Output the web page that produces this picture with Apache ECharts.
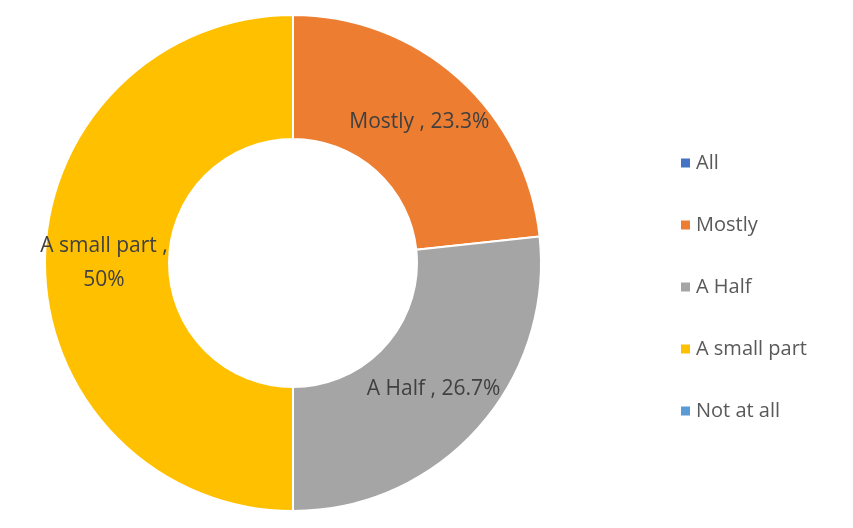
<!DOCTYPE html>
<html><head><meta charset="utf-8">
<script src="https://cdn.jsdelivr.net/npm/echarts@6/dist/echarts.min.js"></script>
<style>html,body{margin:0;padding:0;background:#fff}#c{width:853px;height:528px}</style>
</head><body><div id="c"></div>
<script>
const categories = ["All", "Mostly", "A Half", "A small part", "Not at all"];
const values = [0, 23.3, 26.7, 50, 0];
const labels = ["", "Mostly , 23.3%", "A Half , 26.7%", "A small part ,\n50%", ""];
const colors = ["#4472C4", "#ED7D31", "#A5A5A5", "#FFC000", "#5B9BD5"];
const chart = echarts.init(document.getElementById('c'));
chart.setOption({
  animation: false,
  legend: {
    orient: 'vertical', left: 674, top: 148, itemGap: 42,
    itemWidth: 11, itemHeight: 11, icon: 'rect',
    textStyle: { fontFamily: 'Open Sans', fontSize: 20, color: '#595959', lineHeight: 20 },
    data: categories
  },
  series: [{
    type: 'pie', center: [293, 263], radius: [124, 248],
    startAngle: 90, clockwise: true,
    itemStyle: { borderColor: '#fff', borderWidth: 2 },
    label: { position: 'inside', fontFamily: 'Open Sans', fontSize: 21, color: '#404040', lineHeight: 34,
      formatter: p => labels[p.dataIndex] },
    labelLine: { show: false },
    data: categories.map((c, i) => ({ name: c, value: values[i], itemStyle: { color: colors[i] },
      label: { show: values[i] > 0 } }))
  }]
});
</script></body></html>
